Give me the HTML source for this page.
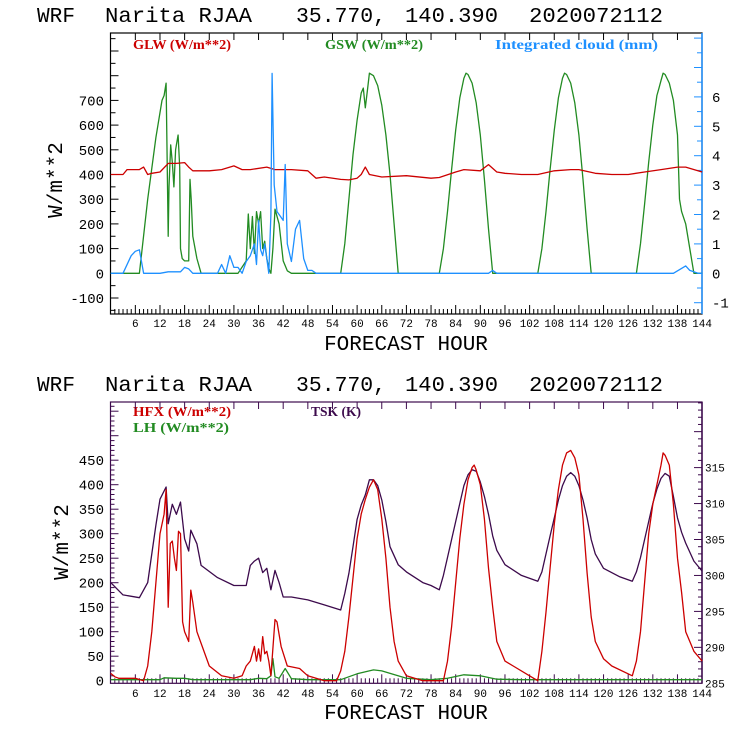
<!DOCTYPE html>
<html><head><meta charset="utf-8"><style>
html,body{margin:0;padding:0;background:#fff;}
svg{display:block;font-family:"Liberation Sans",sans-serif;}
.t{font-family:"Liberation Mono","DejaVu Sans Mono",monospace;font-size:21px;fill:#000;}
.lg{font-family:"Liberation Serif",serif;font-weight:bold;font-size:14px;}
.tk{font-family:"Liberation Mono",monospace;font-size:14px;fill:#000;}
.xt{font-family:"Liberation Mono",monospace;font-size:11px;fill:#000;}
</style></head><body>
<svg id="svg" width="740" height="740" viewBox="0 0 740 740">
<g>
<text class="t" x="37" y="22" textLength="38" lengthAdjust="spacingAndGlyphs">WRF</text>
<text class="t" x="105" y="22" textLength="147" lengthAdjust="spacingAndGlyphs">Narita RJAA</text>
<text class="t" x="296" y="22" textLength="90" lengthAdjust="spacingAndGlyphs">35.770,</text>
<text class="t" x="405" y="22" textLength="93" lengthAdjust="spacingAndGlyphs">140.390</text>
<text class="t" x="529" y="22" textLength="134" lengthAdjust="spacingAndGlyphs">2020072112</text>
</g>
<g>
<text class="t" x="37" y="391" textLength="38" lengthAdjust="spacingAndGlyphs">WRF</text>
<text class="t" x="105" y="391" textLength="147" lengthAdjust="spacingAndGlyphs">Narita RJAA</text>
<text class="t" x="296" y="391" textLength="90" lengthAdjust="spacingAndGlyphs">35.770,</text>
<text class="t" x="405" y="391" textLength="93" lengthAdjust="spacingAndGlyphs">140.390</text>
<text class="t" x="529" y="391" textLength="134" lengthAdjust="spacingAndGlyphs">2020072112</text>
</g>
<text class="lg" x="133" y="49" fill="#cc0000" textLength="98" lengthAdjust="spacingAndGlyphs">GLW (W/m**2)</text>
<text class="lg" x="325" y="49" fill="#228b22" textLength="98" lengthAdjust="spacingAndGlyphs">GSW (W/m**2)</text>
<text class="lg" x="495" y="49" fill="#1e90ff" textLength="163" lengthAdjust="spacingAndGlyphs">Integrated cloud (mm)</text>
<text class="lg" x="133" y="416" fill="#cc0000" textLength="98" lengthAdjust="spacingAndGlyphs">HFX (W/m**2)</text>
<text class="lg" x="133" y="432" fill="#228b22" textLength="96" lengthAdjust="spacingAndGlyphs">LH  (W/m**2)</text>
<text class="lg" x="311" y="416" fill="#3c0a4c" textLength="50" lengthAdjust="spacingAndGlyphs">TSK (K)</text>
<text class="t" x="406" y="350" text-anchor="middle" font-size="19">FORECAST HOUR</text>
<text class="t" x="406" y="719" text-anchor="middle" font-size="19">FORECAST HOUR</text>
<text class="t" transform="translate(62,180) rotate(-90)" text-anchor="middle" font-size="19">W/m**2</text>
<text class="t" transform="translate(68,542) rotate(-90)" text-anchor="middle" font-size="19">W/m**2</text>
</svg>
<script>
// ---- top chart data ----
const glwHours = [0,3,4,7,8,9,10,12,14,16,18,19,20,24,27,30,32,34,38,40,44,48,49,50,52,56,58,60,61,62,63,66,72,78,80,84,86,90,92,94,96,100,104,108,112,114,118,122,126,130,134,138,140,144];
const glwValues = [400,400,420,420,430,400,405,410,445,445,448,430,415,415,420,435,420,420,430,420,420,415,400,385,390,380,378,385,400,430,400,390,395,385,388,410,420,415,440,410,405,400,400,415,420,420,405,400,400,410,420,430,430,410];
const gswHours = [0,7,9,11,12.5,13,13.5,14,14.2,14.6,15,15.4,15.8,16,16.4,16.8,17,17.4,18,19,19.3,19.6,20,21,22,31,33,33.5,34,34.5,35,35.5,36,36.5,37,37.5,38,38.5,39,39.5,40,41,42,43,44,56,57,58,59,60,61,61.5,62,62.5,63,64,65,66,67,68,69,70,80,81,82,83,84,85,86,86.5,87,88,89,90,91,92,93,104,105,106,107,108,109,110,110.5,111,112,113,114,115,116,117,128,129,130,131,132,133,133.5,134,134.5,135,136,137,138,138.5,139,140,141,142,144];
const gswValues = [0,0,300,550,700,720,770,150,350,520,450,350,500,520,560,430,100,60,50,50,380,300,150,60,0,0,50,240,100,230,80,250,200,250,100,130,60,20,0,100,260,200,50,10,0,0,120,300,480,620,730,750,670,740,810,800,760,680,560,400,200,0,0,100,250,420,580,710,790,810,805,770,690,560,380,180,0,0,100,250,420,580,710,790,810,805,770,690,560,380,180,0,0,120,280,450,600,720,750,780,810,805,770,700,560,300,250,200,100,0,0];
const cloudHours = [0,3,5,6,7,8,12,14,17,18,19,20,26,27,28,29,30,31,32,33,34,35,35.5,36,36.5,37,37.5,38,38.5,39,39.3,39.8,40.5,41,42,42.5,43,44,45,46,47,48,49,50,56,70,92,93,94,120,137,140,141,143,144];
const cloudValues = [0,0,0.6,0.75,0.8,0,0,0.05,0.05,0.2,0.15,0,0,0.3,0,0.6,0.2,0.2,0,0.4,0.6,1.0,0.3,1.8,0.8,0.6,1.0,0.5,0,2,6.8,3,2.1,2,1.8,3.7,1.0,0.4,1.5,1.8,0.5,0.1,0.1,0,0,0,0,0.1,0,0,0,0.25,0.1,0,0];
const topLeftTicks = [-100,0,100,200,300,400,500,600,700];
const topRightTicks = [-1,0,1,2,3,4,5,6];
const xTickLabels = [6,12,18,24,30,36,42,48,54,60,66,72,78,84,90,96,102,108,114,120,126,132,138,144];
// ---- bottom chart data ----
const hfxHours = [0,1,2,6,8,9,10,11,12,13,13.5,14,14.5,15,15.5,16,16.5,17,17.5,18,19,19.5,20,21,24,27,30,32,33,34,35,35.5,36,36.5,37,37.5,38,38.5,39,40,40.5,41.5,43,46,48,52,55,56,57,58,59,60,61,62,63,64,65,66,67,68,69,70,72,76,81,82,83,84,85,86,87,88,88.5,89,90,91,92,93,94,96,98,103,104,105,106,107,108,109,110,111,112,113,114,115,116,117,118,120,122,127,128,129,130,131,132,133,134,134.5,135,136,137,138,139,140,142,144];
const hfxValues = [15,8,5,5,0,30,100,200,300,340,390,150,280,285,250,225,305,300,120,100,80,185,160,100,30,10,5,10,30,40,70,40,65,40,90,55,60,40,10,125,120,70,30,25,10,0,0,20,60,130,210,290,340,370,395,410,390,330,250,150,80,40,10,0,0,40,110,200,290,360,410,435,440,430,400,330,230,150,80,40,30,5,0,60,140,230,320,390,440,465,470,455,420,330,220,130,80,45,30,10,40,100,200,300,360,400,440,465,460,440,360,250,180,100,60,40];
const lhHours = [0,12,13,16,18,20,24,34,36,38,39,39.5,40,41,42.5,44,48,56,60,64,66,72,78,82,86,90,94,100,144];
const lhValues = [2,2,6,5,5,2,2,2,5,4,10,45,8,5,25,4,2,2,14,22,20,5,2,5,12,10,3,2,2];
const tskHours = [0,3,7,9,10,11,12,13.5,14,15,16,17,18,19,19.5,21,22,26,30,33,34,35,36,37,38,39,40,41,42,44,48,52,56,57,58,59,60,61,62,63,64,65,66,67,68,70,72,76,78,80,81,82,83,84,85,86,87,88,89,90,91,92,93,94,96,100,104,105,106,107,108,109,110,111,112,113,114,115,116,117,118,120,124,127,128,129,130,131,132,133,134,135,136,137,138,139,140,142,144];
const tskValues = [299,297.3,296.9,299,303,307,310.6,312.3,307.2,309.9,308.5,310.2,305.1,303.4,306.3,304.4,301.4,299.7,298.6,298.6,301.4,302,302.4,300.4,301,298,300.7,299,297,297,296.6,295.9,295.2,297.5,300.3,304,307.8,309.8,311.2,313.3,313.3,312.5,310.5,307.5,304,301.5,300.5,299,298.6,298,300,302.5,305,307.5,310,312.5,314,314.7,314.5,313,311,308.5,305.5,303.5,301.5,300,299.2,300.5,303,305.5,308,310.5,312.5,313.8,314.3,313.8,312.5,310.5,308,305,303,301,299.8,299.2,300.5,302.5,305,307.5,310,312,313.5,314.2,313.8,311,308,306,304.5,302,300.6];
const botLeftTicks = [0,50,100,150,200,250,300,350,400,450];
const botRightTicks = [285,290,295,300,305,310,315];

const svg = document.getElementById('svg');
const NS = 'http://www.w3.org/2000/svg';
const X0 = 110.7, XS = 4.107;
function xh(h){ return X0 + h*XS; }
function mk(tag, attrs, parent){ const e=document.createElementNS(NS,tag); for(const k in attrs) e.setAttribute(k,attrs[k]); (parent||svg).appendChild(e); return e; }

function line(hours, vals, yfn, color, name){
  const pts = hours.map((h,i)=> xh(h).toFixed(1)+','+yfn(vals[i]).toFixed(1)).join(' ');
  const p = mk('polyline',{points:pts,fill:'none',stroke:color,'stroke-width':1.3,'stroke-linejoin':'round'});
  
  
}

function frame(top, bot, color, rightColor, name){
  const g = mk('g',{});
  
  
  mk('rect',{x:110.5,y:top,width:591.5,height:bot-top,fill:'none',stroke:color,'stroke-width':1.2},g);
  mk('line',{x1:702,y1:top,x2:702,y2:bot,stroke:rightColor,'stroke-width':1.5},g);
  for(let h=1;h<144;h++){
    const L = h%6===0?9:5;
    mk('line',{x1:xh(h),y1:bot,x2:xh(h),y2:bot-L,stroke:color,'stroke-width':1},g);
    if(h%6===0) mk('line',{x1:xh(h),y1:top,x2:xh(h),y2:top+7,stroke:color,'stroke-width':1},g);
  }
  return g;
}

// top chart
const T_TOP=33, T_BOT=314;
function yTL(v){ return 273.3 - v*0.247; }
function yTR(v){ return 273.3 - v*29.4; }
const gt = frame(T_TOP,T_BOT,'#000','#1e90ff','top-chart-frame');
for(let v=-150; v<=950; v+=50){ const y=yTL(v); if(y<T_TOP||y>T_BOT) continue; mk('line',{x1:110.5,y1:y,x2:110.5+(v%100===0?8:5),y2:y,stroke:'#000'},gt); }
for(let v=-1.5; v<=8.5; v+=0.5){ const y=yTR(v); if(y<T_TOP||y>T_BOT) continue; mk('line',{x1:702,y1:y,x2:702-(Number.isInteger(v)?8:5),y2:y,stroke:'#1e90ff'},gt); }
topLeftTicks.forEach(v=>{ const t=mk('text',{class:'tk',x:104,y:yTL(v)+5,'text-anchor':'end'}); t.textContent=v;   });
topRightTicks.forEach(v=>{ const t=mk('text',{class:'tk',x:712,y:yTR(v)+5}); t.textContent=v;   });
xTickLabels.forEach(v=>{ const t=mk('text',{class:'xt',x:xh(v),y:327,'text-anchor':'middle'}); t.textContent=v;   });
line(gswHours,gswValues,yTL,'#228b22','gsw-line');
line(glwHours,glwValues,yTL,'#cc0000','glw-line');
line(cloudHours,cloudValues,yTR,'#1e90ff','cloud-line');

// bottom chart
const B_TOP=402, B_BOT=683.3;
function yBL(v){ return 680.7 - v*0.49; }
function yBR(v){ return 683.3 - (v-285)*7.19; }
const gb = frame(B_TOP,B_BOT,'#3c0a4c','#3c0a4c','bottom-chart-frame');
for(let v=10; v<=570; v+=10){ const y=yBL(v); if(y<B_TOP||y>B_BOT) continue; mk('line',{x1:110.5,y1:y,x2:110.5+(v%50===0?8:4),y2:y,stroke:'#3c0a4c'},gb); }
for(let v=286; v<=324; v+=1){ const y=yBR(v); if(y<B_TOP||y>B_BOT) continue; mk('line',{x1:702,y1:y,x2:702-(v%5===0?8:4),y2:y,stroke:'#3c0a4c'},gb); }
botLeftTicks.forEach(v=>{ const t=mk('text',{class:'tk',x:104,y:yBL(v)+5,'text-anchor':'end'}); t.textContent=v;   });
botRightTicks.forEach(v=>{ const t=mk('text',{class:'xt',x:705,y:yBR(v)+4}); t.textContent=v;   });
xTickLabels.forEach(v=>{ const t=mk('text',{class:'xt',x:xh(v),y:697,'text-anchor':'middle'}); t.textContent=v;   });
line(lhHours,lhValues,yBL,'#228b22','lh-line');
line(tskHours,tskValues,yBR,'#3c0a4c','tsk-line');
line(hfxHours,hfxValues,yBL,'#cc0000','hfx-line');
</script>
</body></html>
